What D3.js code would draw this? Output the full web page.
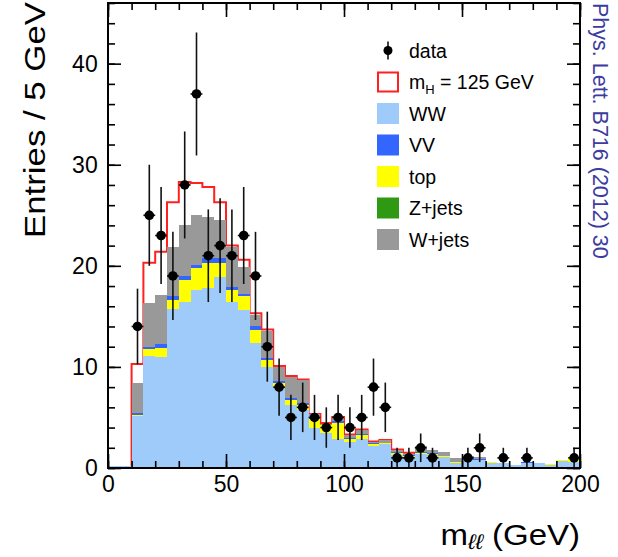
<!DOCTYPE html>
<html>
<head>
<meta charset="UTF-8" />
<script src="https://d3js.org/d3.v7.min.js"></script>
<style>
  body { margin: 0; background: #fff; }
  svg { display: block; font-family: "Liberation Sans", Arial, sans-serif; }
  .tick text { font-size: 23px; fill: #000; }
  .tick line { stroke: #000; stroke-width: 1.6; }
</style>
</head>
<body>
<svg id="chart" width="618" height="557"></svg>
<script>
// m_ll bins, 5 GeV wide, 0-200 GeV
const binLow = d3.range(0, 200, 5);

// stacked background contributions (entries per bin), bottom to top
const ww    = [0.2, 0.2, 5.1, 11.1, 11.0, 15.7, 16.4, 17.6, 17.8, 18.9, 16.4, 15.6, 12.4, 10.0, 7.9, 6.2, 5.7, 4.0, 3.5, 2.9,
               2.6, 2.85, 2.2, 2.35, 1.3, 1.1, 1.4, 1.3, 1.1, 0.45, 0.75, 0.75, 0.5, 0.45, 0.3, 0.5, 0.45, 0.3, 0.7, 0.6];
const top_  = [0, 0, 0.15, 0.7, 0.9, 0.9, 2.2, 2.2, 2.5, 1.4, 1.2, 1.4, 1.25, 0.7, 0.55, 0.5, 0.5, 0.8, 0.75, 1.6,
               0.3, 0.45, 0.2, 0.1, 0.2, 0.1, 0.1, 0.05, 0.05, 0.1, 0.05, 0.05, 0.05, 0.05, 0, 0, 0, 0.1, 0.05, 0.5];
const vv    = [0, 0, 0.15, 0.2, 0.35, 0.4, 0.4, 0.3, 0.5, 0.5, 0.35, 0.25, 0.35, 0.2, 0.15, 0.2, 0.2, 0.2, 0.05, 0.15,
               0.1, 0.05, 0.05, 0.05, 0.05, 0.05, 0.1, 0.1, 0.05, 0.05, 0.05, 0.05, 0, 0, 0, 0.05, 0, 0, 0, 0];
const zjets = [0, 0, 0, 0, 0, 0, 0, 0, 0, 0, 0, 0, 0, 0, 0, 0, 0, 0, 0, 0,
               0, 0, 0, 0, 0, 0, 0, 0, 0, 0, 0, 0, 0, 0, 0, 0, 0, 0, 0, 0];
const wjets = [0, 0, 3.05, 4.3, 4.85, 4.9, 5.0, 4.9, 4.0, 3.7, 3.95, 2.65, 1.1, 2.7, 1.4, 2.1, 2.3, 0.3, 0.1, 0.35,
               0.3, 0.45, 0.15, 0.25, 0.25, 0.15, 0.6, 0.35, 0.4, 0.4, 0.3, 0.25, 0, 0, 0, 0, 0, 0, 0, 0];
// m_H = 125 GeV signal on top of the stack
const higgs = [0, 0, 1.85, 4.0, 4.3, 4.4, 4.3, 3.2, 3.0, 1.8, 0.1, 0.7, 0.2, 0.1, 0.1, 0.1, 0.05, 0.05, 0.05, 0.05,
               0.02, 0.02, 0.02, 0.02, 0.02, 0.1, 0, 0, 0, 0, 0, 0, 0, 0, 0, 0, 0, 0, 0, 0];
// observed events
const observed = [0, 0, 14, 25, 23, 19, 28, 37, 21, 22, 21, 23, 19, 12, 8, 5, 6, 5, 4, 5,
                  4, 5, 8, 6, 1, 1, 2, 1, 0, 0, 1, 2, 0, 1, 0, 1, 0, 0, 0, 1];

const xMajor = [0, 50, 100, 150, 200];
const yMajor = [0, 10, 20, 30, 40];

const series = [
  { key: "ww", label: "WW", color: "#9fcbfa" },
  { key: "top", label: "top", color: "#ffff00" },
  { key: "vv", label: "VV", color: "#3366ff" },
  { key: "zjets", label: "Z+jets", color: "#2e9a14" },
  { key: "wjets", label: "W+jets", color: "#999999" },
];
const legendOrder = ["ww", "vv", "top", "zjets", "wjets"];

const margin = { top: 3, right: 38, bottom: 89, left: 108 };
const width = 618 - margin.left - margin.right;
const height = 557 - margin.top - margin.bottom;

const svg = d3.select("#chart");
const g = svg.append("g").attr("transform", `translate(${margin.left},${margin.top})`);

const x = d3.scaleLinear().domain([0, 200]).range([0, width]);
const y = d3.scaleLinear().domain([0, 46]).range([height, 0]);

const rows = binLow.map((lo, i) => ({
  lo, ww: ww[i], top: top_[i], vv: vv[i], zjets: zjets[i], wjets: wjets[i],
}));
const stacked = d3.stack().keys(series.map(s => s.key))(rows);
const stackTop = stacked[stacked.length - 1];

// signal outline, drawn under the fills like in the stack
const sigIdx = d3.range(binLow.length).filter(i => higgs[i] > 0);
const i0 = sigIdx[0], i1 = sigIdx[sigIdx.length - 1];
const redPts = [{ gev: binLow[i0], v: 0 }];
for (let i = i0; i <= i1; i++) redPts.push({ gev: binLow[i], v: stackTop[i][1] + higgs[i] });
redPts.push({ gev: binLow[i1] + 5, v: stackTop[i1][1] + higgs[i1] });
redPts.push({ gev: binLow[i1] + 5, v: 0 });

g.append("path")
  .attr("d", d3.line().x(d => x(d.gev)).y(d => y(d.v)).curve(d3.curveStepAfter)(redPts))
  .attr("fill", "none")
  .attr("stroke", "#ff2020")
  .attr("stroke-width", 2);

// stacked backgrounds
g.selectAll(".layer")
  .data(stacked)
  .join("g")
  .attr("class", "layer")
  .attr("fill", d => series.find(s => s.key === d.key).color)
  .selectAll("rect")
  .data(d => d.filter(b => b[1] > b[0]))
  .join("rect")
  .attr("x", d => x(d.data.lo))
  .attr("width", d => x(d.data.lo + 5) - x(d.data.lo))
  .attr("y", d => y(d[1]))
  .attr("height", d => y(d[0]) - y(d[1]))
  .attr("shape-rendering", "crispEdges");

// data points with sqrt(N) errors
const pts = binLow.map((lo, i) => ({ lo, n: observed[i] })).filter(d => d.n > 0);
const dp = g.selectAll(".pt").data(pts).join("g").attr("class", "pt");
dp.append("line")
  .attr("x1", d => x(d.lo + 2.5)).attr("x2", d => x(d.lo + 2.5))
  .attr("y1", d => y(d.n - Math.sqrt(d.n))).attr("y2", d => y(d.n + Math.sqrt(d.n)))
  .attr("stroke", "#111").attr("stroke-width", 1.6);
dp.append("line")
  .attr("x1", d => x(d.lo)).attr("x2", d => x(d.lo + 5))
  .attr("y1", d => y(d.n)).attr("y2", d => y(d.n))
  .attr("stroke", "#111").attr("stroke-width", 1.6);
dp.append("circle")
  .attr("cx", d => x(d.lo + 2.5)).attr("cy", d => y(d.n)).attr("r", 4.8)
  .attr("fill", "#000");

// axes: ticks inside the frame
function drawAxis(axisFn, scale, pos, major, minor, majLen, minLen, labels) {
  const a = g.append("g").attr("transform", pos);
  a.append("g").call(axisFn(scale).tickValues(minor).tickSize(-minLen).tickFormat(""))
    .select(".domain").remove();
  const m = a.append("g").call(axisFn(scale).tickValues(major).tickSize(-majLen)
    .tickPadding(labels ? 8 : 0).tickFormat(labels ? d3.format("d") : ""));
  m.select(".domain").remove();
  return m;
}
const xm = drawAxis(d3.axisBottom, x, `translate(0,${height})`, xMajor, d3.range(0, 201, 10), 14, 7, true);
drawAxis(d3.axisTop, x, "translate(0,0)", xMajor, d3.range(0, 201, 10), 14, 7, false);
const ym = drawAxis(d3.axisLeft, y, "translate(0,0)", yMajor, d3.range(0, 47, 2), 13, 7, true);
drawAxis(d3.axisRight, y, `translate(${width},0)`, yMajor, d3.range(0, 47, 2), 13, 7, false);
xm.selectAll("text").attr("font-size", 23);
ym.selectAll("text").attr("font-size", 23).attr("dx", "-0.1em");

g.append("rect")
  .attr("width", width).attr("height", height)
  .attr("fill", "none").attr("stroke", "#000").attr("stroke-width", 2);

// axis titles
svg.append("text")
  .attr("transform", "translate(45,238) rotate(-90)")
  .attr("font-size", 29)
  .attr("textLength", 236)
  .attr("lengthAdjust", "spacingAndGlyphs")
  .text("Entries /  5 GeV");

const xt = svg.append("text")
  .attr("transform", `translate(${margin.left + width},545) scale(1.1,1)`)
  .attr("text-anchor", "end")
  .attr("font-size", 30);
xt.append("tspan").text("m");
xt.append("tspan").attr("font-size", 21).attr("font-style", "italic").attr("dy", 4).text("\u2113\u2113");
xt.append("tspan").attr("dy", -4).text(" (GeV)");

svg.append("text")
  .attr("transform", "translate(593,3) rotate(90)")
  .attr("font-size", 21.5)
  .attr("fill", "#3c3ca0")
  .text("Phys. Lett. B716 (2012) 30");

// legend
const leg = svg.append("g").attr("transform", "translate(377,50.5)");
const step = 31.5;
const entries = [{ kind: "data", label: "data" }, { kind: "sig", label: "m" }]
  .concat(legendOrder.map(k => ({ kind: "bkg", ...series.find(s => s.key === k) })));
entries.forEach((e, i) => {
  const row = leg.append("g").attr("transform", `translate(0,${i * step})`);
  if (e.kind === "data") {
    row.append("line").attr("x1", 11).attr("x2", 11).attr("y1", -9).attr("y2", 9)
      .attr("stroke", "#111").attr("stroke-width", 1.6);
    row.append("circle").attr("cx", 11).attr("cy", 0).attr("r", 4.5).attr("fill", "#000");
  } else if (e.kind === "sig") {
    row.append("rect").attr("x", 1).attr("y", -9.5).attr("width", 20).attr("height", 19)
      .attr("fill", "#fff").attr("stroke", "#ff2020").attr("stroke-width", 2);
  } else {
    row.append("rect").attr("x", 0).attr("y", -10.5).attr("width", 22).attr("height", 21)
      .attr("fill", e.color);
  }
  const t = row.append("text").attr("x", 32).attr("y", 7).attr("font-size", 19.5);
  if (e.kind === "sig") {
    t.append("tspan").text("m");
    t.append("tspan").attr("font-size", 13).attr("dy", 5).text("H");
    t.append("tspan").attr("dy", -5).text(" = 125 GeV");
  } else {
    t.text(e.label);
  }
});
</script>
</body>
</html>
